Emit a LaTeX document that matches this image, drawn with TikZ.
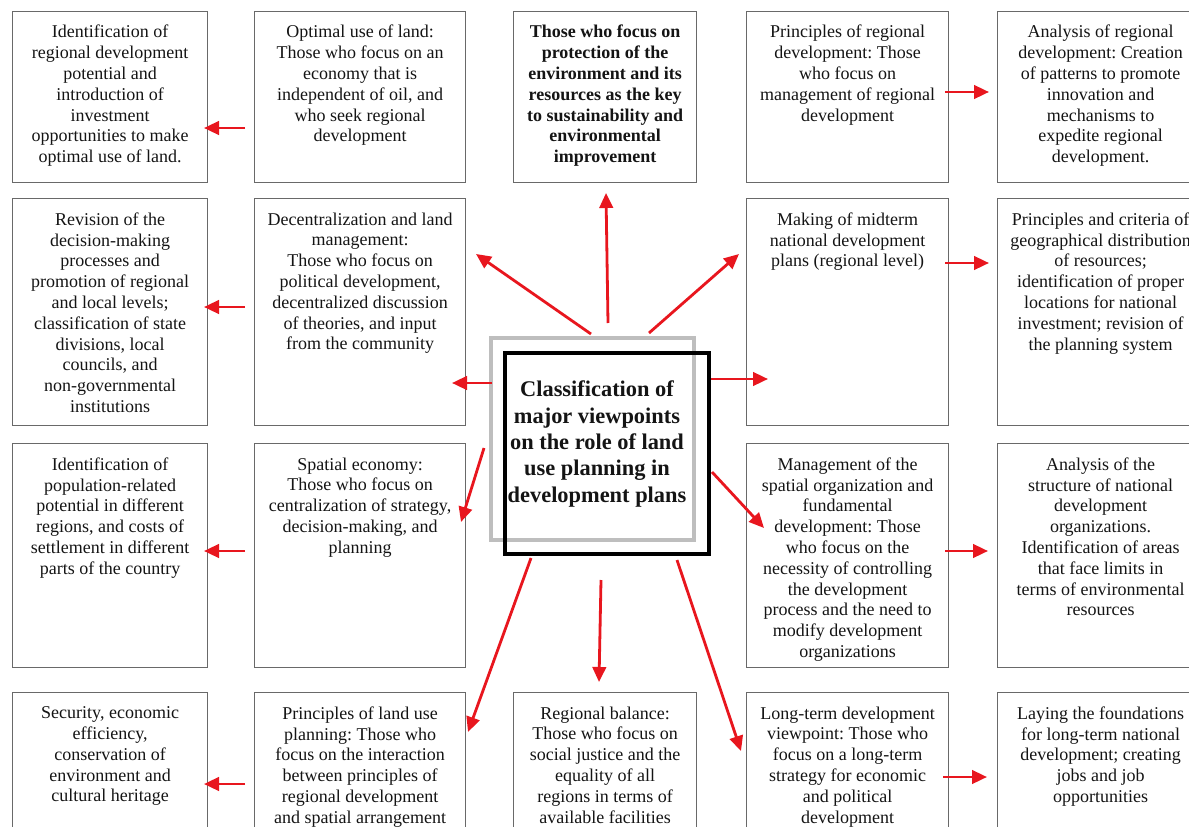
\documentclass[tikz,border=0pt]{standalone}
\usepackage{fontspec}
\setmainfont{Liberation Serif}
\usetikzlibrary{arrows.meta}
\definecolor{arrowred}{RGB}{232,22,30}
\definecolor{boxgray}{RGB}{105,105,105}
\definecolor{framegray}{RGB}{190,190,190}
\definecolor{inkblack}{RGB}{20,20,20}
\frenchspacing

\begin{document}
\begin{tikzpicture}[x=1pt,y=-1pt,
  box/.style={draw=boxgray,line width=1.2pt,inner sep=0pt,anchor=north west},
  txt/.style={align=center,inner sep=0pt,anchor=north,text=inkblack,
    font=\fontsize{18}{20.8}\selectfont},
  btxt/.style={txt,font=\fontsize{18}{20.8}\selectfont\bfseries},
  ctxt/.style={txt,font=\fontsize{22.4}{26.3}\selectfont\bfseries},
  arr/.style={draw=arrowred,line width=2.8pt,
    -{Triangle[length=15pt,width=13.5pt]}}
]
\useasboundingbox (0,0) rectangle (1189,827);
\clip (0,0) rectangle (1189,827);

% ---------- boxes: columns at x = 12, 254, 513, 746, 997 ----------
% row 1
\node[box,minimum width=195pt,minimum height=171.5pt] (b11) at (12,10.5) {};
\node[box,minimum width=211pt,minimum height=171.5pt] (b12) at (254,10.5) {};
\node[box,minimum width=183pt,minimum height=171.5pt] (b13) at (513,10.5) {};
\node[box,minimum width=202pt,minimum height=171.5pt] (b14) at (746,10.5) {};
\node[box,minimum width=206pt,minimum height=171.5pt] (b15) at (997,10.5) {};
% row 2
\node[box,minimum width=195pt,minimum height=226.5pt] (b21) at (12,198) {};
\node[box,minimum width=211pt,minimum height=226.5pt] (b22) at (254,198) {};
\node[box,minimum width=202pt,minimum height=226.5pt] (b24) at (746,198) {};
\node[box,minimum width=206pt,minimum height=226.5pt] (b25) at (997,198) {};
% row 3
\node[box,minimum width=195pt,minimum height=224pt] (b31) at (12,443) {};
\node[box,minimum width=211pt,minimum height=224pt] (b32) at (254,443) {};
\node[box,minimum width=202pt,minimum height=224pt] (b34) at (746,443) {};
\node[box,minimum width=206pt,minimum height=224pt] (b35) at (997,443) {};
% row 4
\node[box,minimum width=195pt,minimum height=160pt] (b41) at (12,692) {};
\node[box,minimum width=211pt,minimum height=160pt] (b42) at (254,692) {};
\node[box,minimum width=183pt,minimum height=160pt] (b43) at (513,692) {};
\node[box,minimum width=202pt,minimum height=160pt] (b44) at (746,692) {};
\node[box,minimum width=206pt,minimum height=160pt] (b45) at (997,692) {};

% ---------- box texts ----------
\node[txt] (t11) at ([yshift=-14.5pt]b11.north) {Identification of\\regional development\\potential and\\introduction of\\investment\\opportunities to make\\optimal use of land.};
\node[txt] (t12) at ([yshift=-14.5pt]b12.north) {Optimal use of land:\\Those who focus on an\\economy that is\\independent of oil, and\\who seek regional\\development};
\node[btxt] (t13) at ([yshift=-14.5pt]b13.north) {Those who focus on\\protection of the\\environment and its\\resources as the key\\to sustainability and\\environmental\\improvement};
\node[txt] (t14) at ([yshift=-14.5pt]b14.north) {Principles of regional\\development: Those\\who focus on\\management of regional\\development};
\node[txt] (t15) at ([yshift=-14.5pt]b15.north) {Analysis of regional\\development: Creation\\of patterns to promote\\innovation and\\mechanisms to\\expedite regional\\development.};

\node[txt] (t21) at ([yshift=-14.5pt]b21.north) {Revision of the\\decision-making\\processes and\\promotion of regional\\and local levels;\\classification of state\\divisions, local\\councils, and\\non-governmental\\institutions};
\node[txt] (t22) at ([yshift=-14.5pt]b22.north) {Decentralization and land\\management:\\Those who focus on\\political development,\\decentralized discussion\\of theories, and input\\from the community};
\node[txt] (t24) at ([yshift=-14.5pt]b24.north) {Making of midterm\\national development\\plans (regional level)};
\node[txt] (t25) at ([yshift=-14.5pt]b25.north) {Principles and criteria of\\geographical distribution\\of resources;\\identification of proper\\locations for national\\investment; revision of\\the planning system};

\node[txt] (t31) at ([yshift=-14.5pt]b31.north) {Identification of\\population-related\\potential in different\\regions, and costs of\\settlement in different\\parts of the country};
\node[txt] (t32) at ([yshift=-14.5pt]b32.north) {Spatial economy:\\Those who focus on\\centralization of strategy,\\decision-making, and\\planning};
\node[txt] (t34) at ([yshift=-14.5pt]b34.north) {Management of the\\spatial organization and\\fundamental\\development: Those\\who focus on the\\necessity of controlling\\the development\\process and the need to\\modify development\\organizations};
\node[txt] (t35) at ([yshift=-14.5pt]b35.north) {Analysis of the\\structure of national\\development\\organizations.\\Identification of areas\\that face limits in\\terms of environmental\\resources};

\node[txt] (t41) at ([yshift=-14.5pt]b41.north) {Security, economic\\efficiency,\\conservation of\\environment and\\cultural heritage};
\node[txt] (t42) at ([yshift=-14.5pt]b42.north) {Principles of land use\\planning: Those who\\focus on the interaction\\between principles of\\regional development\\and spatial arrangement};
\node[txt] (t43) at ([yshift=-14.5pt]b43.north) {Regional balance:\\Those who focus on\\social justice and the\\equality of all\\regions in terms of\\available facilities};
\node[txt] (t44) at ([yshift=-14.5pt]b44.north) {Long-term development\\viewpoint: Those who\\focus on a long-term\\strategy for economic\\and political\\development};
\node[txt] (t45) at ([yshift=-14.5pt]b45.north) {Laying the foundations\\for long-term national\\development; creating\\jobs and job\\opportunities};

% ---------- central double frame ----------
\node[draw=framegray,line width=4pt,inner sep=0pt,anchor=north west,
  minimum width=203pt,minimum height=202pt] (frame) at (489,336) {};
\node[draw=black,line width=4pt,inner sep=0pt,anchor=north west,
  minimum width=204pt,minimum height=201pt] (core) at (503,350.5) {};
\node[ctxt] (title) at (597,381) {Classification of\\major viewpoints\\on the role of land\\use planning in\\development plans};

% ---------- arrow end points ----------
\coordinate (l1s) at (245,128);  \coordinate (l1e) at (204,128);
\coordinate (l2s) at (245,307);  \coordinate (l2e) at (204,307);
\coordinate (l3s) at (245,551);  \coordinate (l3e) at (204,551);
\coordinate (l4s) at (245,784);  \coordinate (l4e) at (204,784);
\coordinate (r1s) at (945,92);   \coordinate (r1e) at (989,92);
\coordinate (r2s) at (945,263);  \coordinate (r2e) at (989,263);
\coordinate (r3s) at (945,551);  \coordinate (r3e) at (988,551);
\coordinate (r4s) at (943,777);  \coordinate (r4e) at (987,777);

\coordinate (cU)  at (608,323);  \coordinate (eU)  at (606,193);
\coordinate (cUL) at (591,334);  \coordinate (eUL) at (476,254);
\coordinate (cUR) at (649,333);  \coordinate (eUR) at (739,254);
\coordinate (cL)  at (492,383);  \coordinate (eL)  at (452,383);
\coordinate (cR)  at (711,379);  \coordinate (eR)  at (768,379);
\coordinate (cLD) at (484,448);  \coordinate (eLD) at (461,522);
\coordinate (cRD) at (712,472);  \coordinate (eRD) at (764,528);
\coordinate (cDL) at (531,558);  \coordinate (eDL) at (468,732);
\coordinate (cD)  at (601,580);  \coordinate (eD)  at (599,682);
\coordinate (cDR) at (677,560);  \coordinate (eDR) at (741,751);

% ---------- arrows ----------
\foreach \s/\e in {l1s/l1e,l2s/l2e,l3s/l3e,l4s/l4e,r1s/r1e,r2s/r2e,r3s/r3e,r4s/r4e,
  cU/eU,cUL/eUL,cUR/eUR,cL/eL,cR/eR,cLD/eLD,cRD/eRD,cDL/eDL,cD/eD,cDR/eDR}
  \draw[arr] (\s) -- (\e);
\end{tikzpicture}
\end{document}
